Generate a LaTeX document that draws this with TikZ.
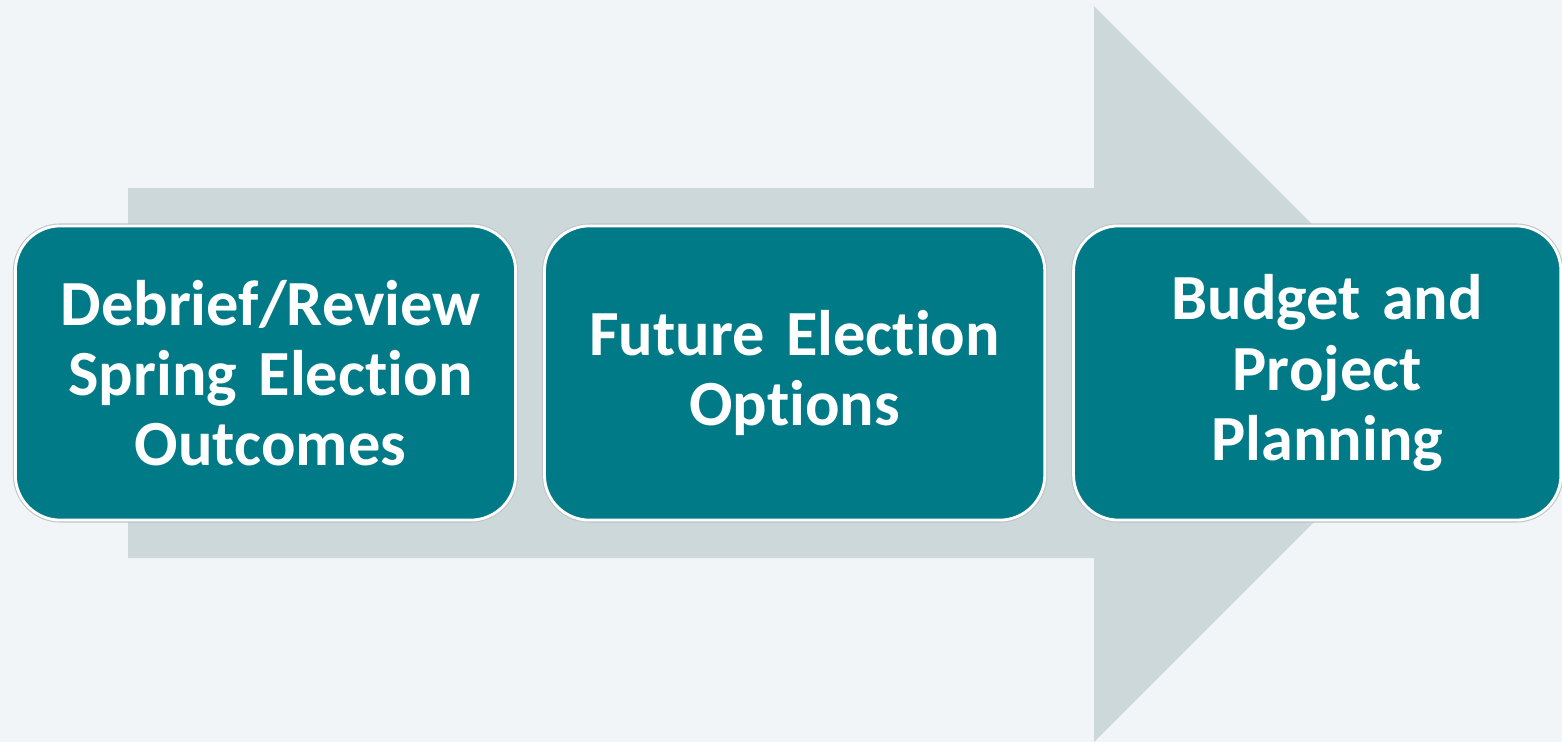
\documentclass[tikz,border=0pt]{standalone}
\usepackage{fontspec}
\setmainfont{Carlito}[Ligatures=NoCommon]
\usepackage{xcolor}
\usetikzlibrary{positioning}
\definecolor{tealbox}{RGB}{0,122,135}
\definecolor{arrowgrey}{RGB}{205,216,218}
\definecolor{backgr}{RGB}{242,245,248}
\definecolor{edgegrey}{RGB}{190,196,200}
\tikzset{
	step box/.style={rectangle,rounded corners=0.45cm,draw=white,line width=0.8pt,
		preaction={draw=edgegrey,line width=1.4pt},
		fill=tealbox,text=white,font=\bfseries\fontsize{18.3}{20}\selectfont,
		align=center,minimum height=2.94cm,minimum width=5.0cm,text width=4.7cm,inner sep=0pt}
}

\begin{document}
\begin{tikzpicture}[x=0.01cm,y=-0.01cm]
	\fill[backgr] (0,0) rectangle (1562,742);
	\useasboundingbox (0,0) rectangle (1562,742);
	% big arrow behind the steps
	\fill[arrowgrey] (128,188) -- (1094,188) -- (1094,6) -- (1462,374) -- (1094,742) -- (1094,558) -- (128,558) -- cycle;
	\node [step box] (debrief) at (265.5,373) {\hspace*{0.1cm}Debrief/Review\\\hspace*{0.1cm}Spring Election\\\hspace*{0.1cm}Outcomes};
	\node [step box,right=0.26cm of debrief] (future) {Future Election\\Options};
	\node [step box,right=0.26cm of future,minimum width=4.87cm] (budget) {\hspace*{0.2cm}Budget and\\\hspace*{0.2cm}Project\\\hspace*{0.2cm}Planning};
\end{tikzpicture}
\end{document}
